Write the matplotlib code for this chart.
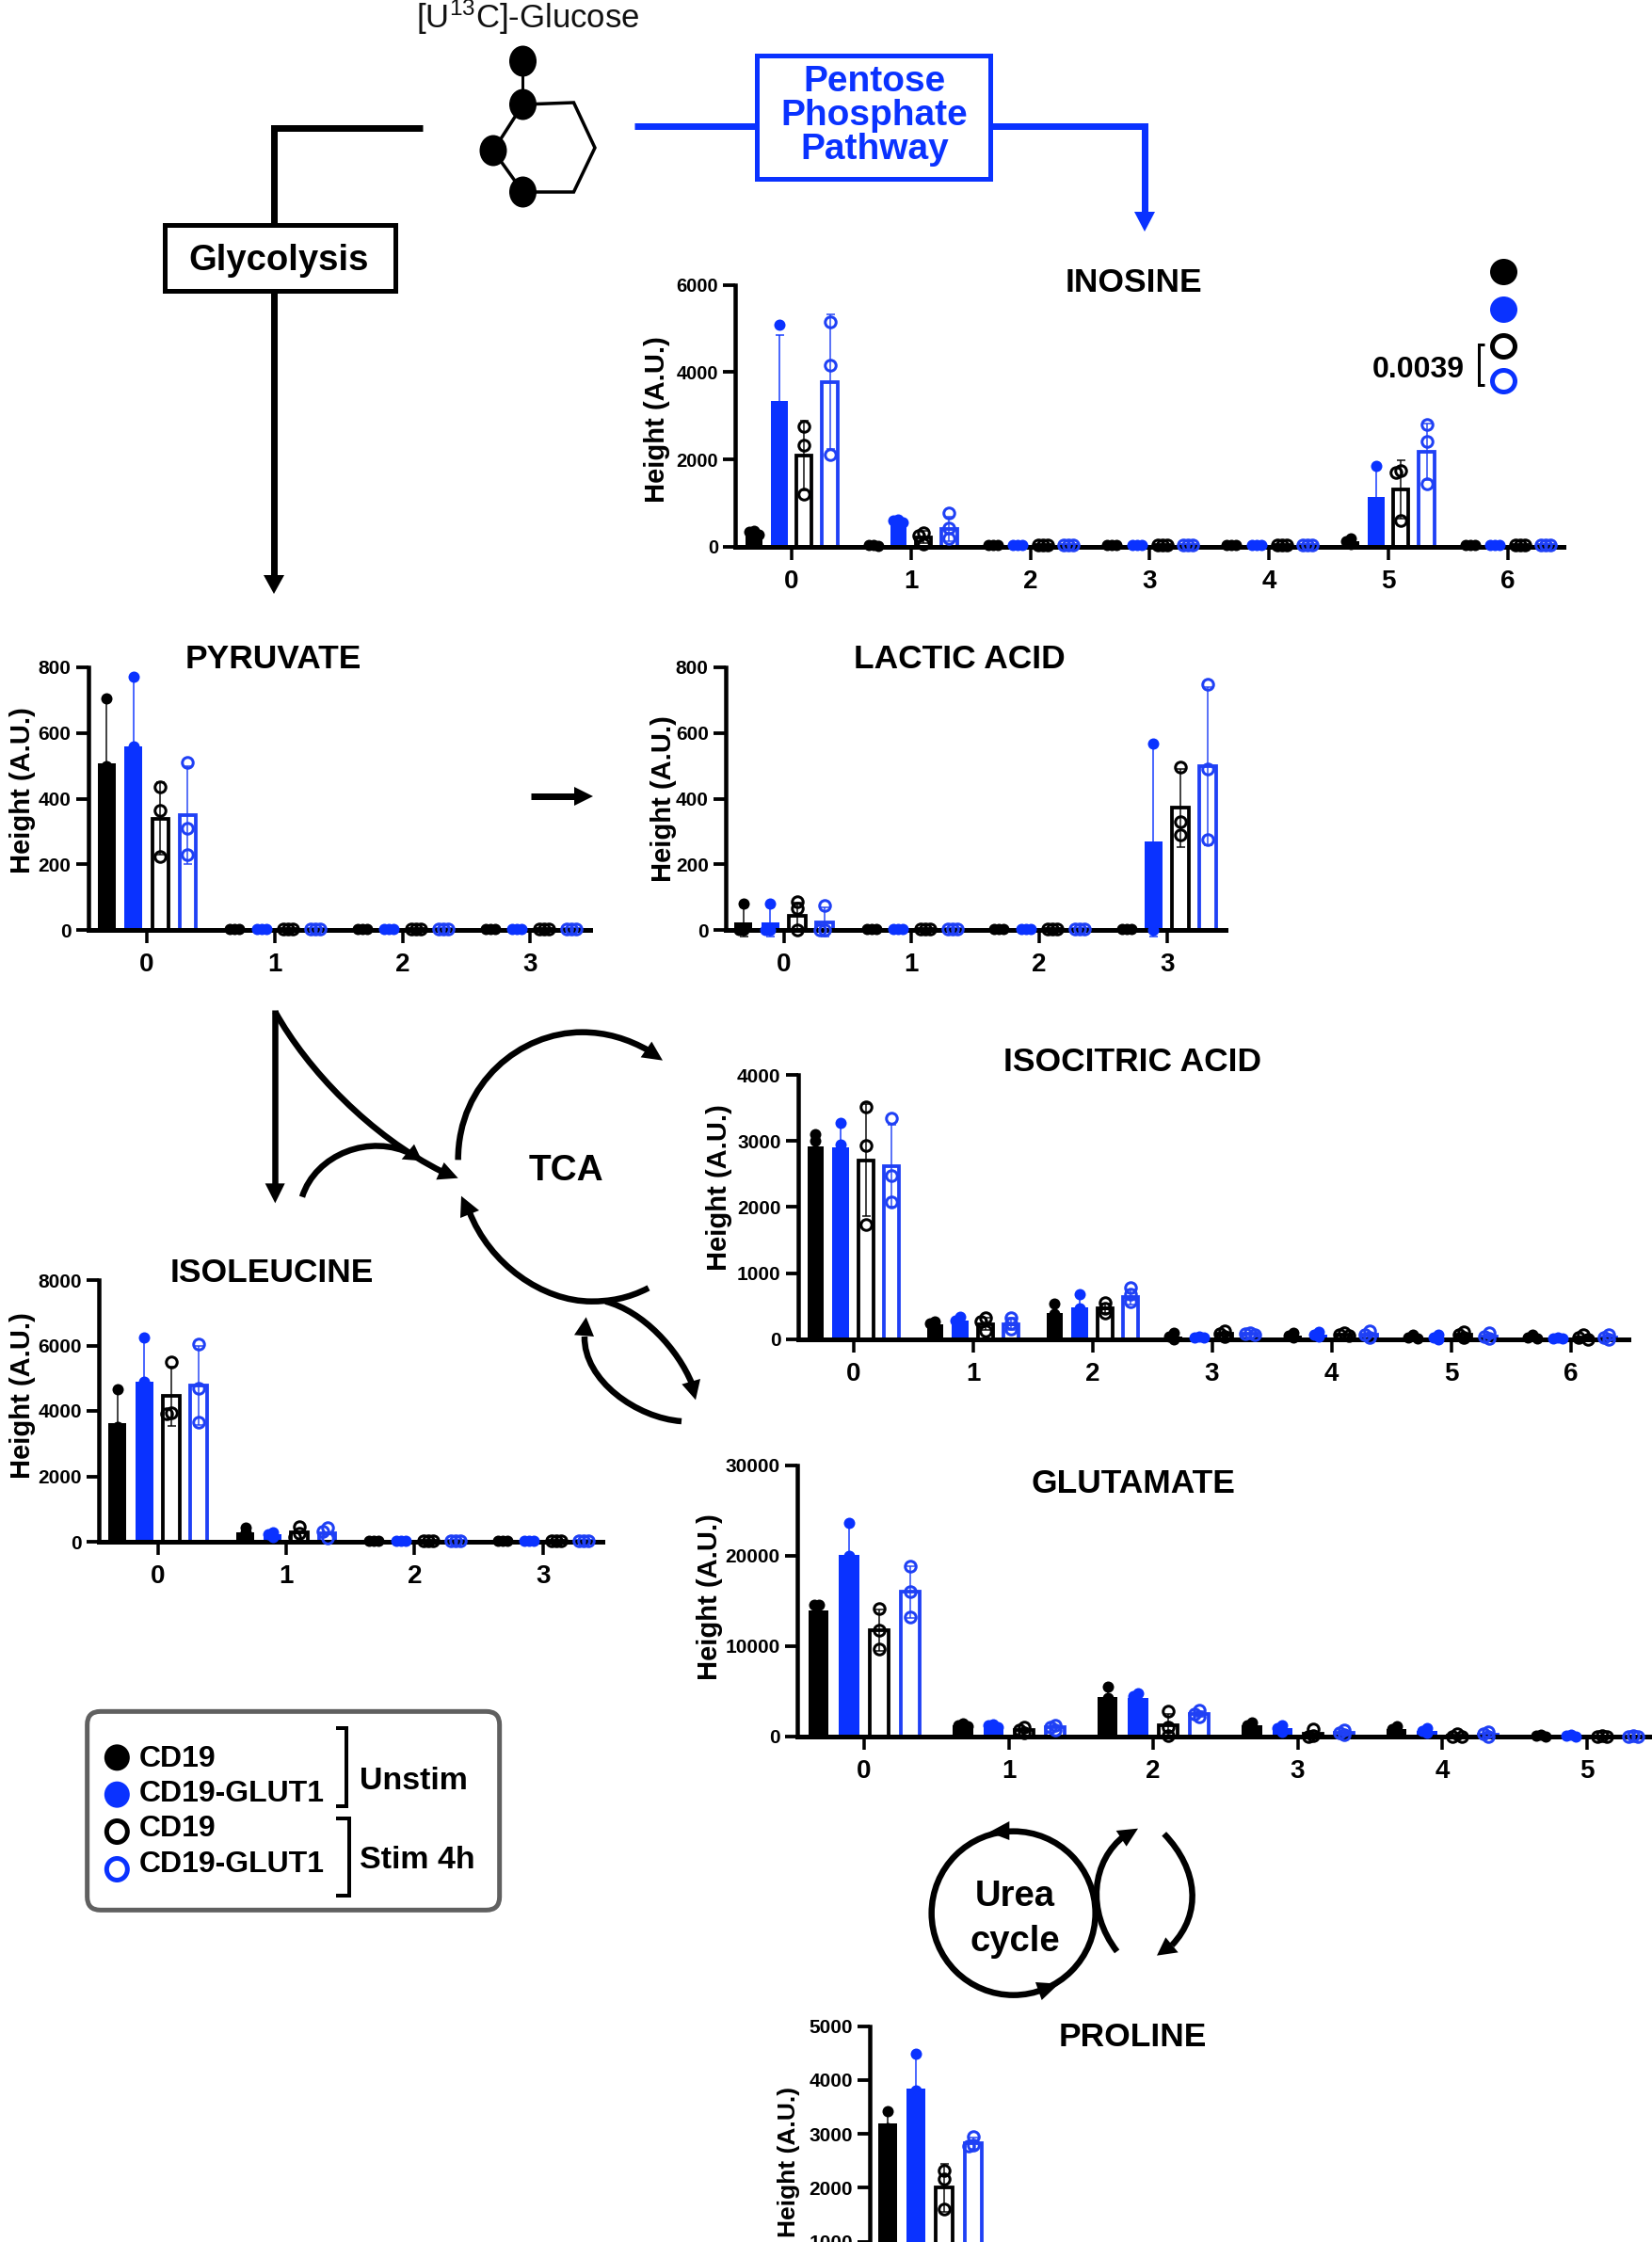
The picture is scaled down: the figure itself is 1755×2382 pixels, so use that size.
import matplotlib
matplotlib.use('Agg')
import matplotlib.pyplot as plt
from matplotlib.path import Path
from matplotlib.patches import PathPatch, Polygon, Ellipse, FancyBboxPatch, Rectangle

plt.rcParams['font.family'] = ['Liberation Sans', 'DejaVu Sans']
plt.rcParams['font.weight'] = 'bold'
plt.rcParams['mathtext.default'] = 'regular'

W, H = 1755, 2382
BLACK = '#000000'
BLUE = '#0A32FF'
OPEN_BLUE = '#1F40F5'
GROUP_COLORS = [BLACK, BLUE, BLACK, OPEN_BLUE]
GROUP_FILLED = [True, True, False, False]
OFFSETS = [-0.315, -0.105, 0.105, 0.32]

# ---------------- data: one row per isotopologue, four groups per row ----------------
inosine_labels = ['0', '1', '2', '3', '4', '5', '6']
inosine_means = [[300, 3330, 2080, 3780], [30, 600, 220, 400], [30, 30, 30, 30], [30, 30, 30, 30],
                 [30, 30, 30, 30], [130, 1130, 1310, 2180], [30, 30, 30, 30]]
inosine_sd = [[50, 1520, 800, 1550], [0, 50, 130, 280], [0, 0, 0, 0], [0, 0, 0, 0],
              [0, 0, 0, 0], [50, 700, 660, 650], [0, 0, 0, 0]]
inosine_points = [
    [[350, 330, 280], [5080, 2900, 2000], [2750, 2320, 1200], [5150, 4150, 2100]],
    [[40, 30, 20], [620, 600, 560], [320, 250, 50], [780, 420, 180]],
    [[30, 30, 30], [30, 30, 30], [30, 30, 30], [30, 30, 30]],
    [[30, 30, 30], [30, 30, 30], [30, 30, 30], [30, 30, 30]],
    [[30, 30, 30], [30, 30, 30], [30, 30, 30], [30, 30, 30]],
    [[180, 130, 60], [1850, 900, 640], [1750, 1700, 600], [2800, 2400, 1430]],
    [[30, 30, 30], [30, 30, 30], [30, 30, 30], [30, 30, 30]],
]

pyruvate_labels = ['0', '1', '2', '3']
pyruvate_means = [[508, 558, 340, 350], [3, 3, 3, 3], [3, 3, 3, 3], [3, 3, 3, 3]]
pyruvate_sd = [[190, 210, 110, 150], [0, 0, 0, 0], [0, 0, 0, 0], [0, 0, 0, 0]]
pyruvate_points = [
    [[705, 500, 320], [770, 560, 340], [437, 365, 225], [510, 310, 230]],
    [[3, 3, 3], [3, 3, 3], [3, 3, 3], [3, 3, 3]],
    [[3, 3, 3], [3, 3, 3], [3, 3, 3], [3, 3, 3]],
    [[3, 3, 3], [3, 3, 3], [3, 3, 3], [3, 3, 3]],
]

lactic_labels = ['0', '1', '2', '3']
lactic_means = [[25, 25, 45, 25], [3, 3, 3, 3], [3, 3, 3, 3], [3, 270, 372, 500]]
lactic_sd = [[45, 45, 40, 45], [0, 0, 0, 0], [0, 0, 0, 0], [0, 290, 120, 240]]
lactic_points = [
    [[82, 2, 2], [80, 2, 2], [88, 68, 0], [75, 2, 2]],
    [[3, 3, 3], [3, 3, 3], [3, 3, 3], [3, 3, 3]],
    [[3, 3, 3], [3, 3, 3], [3, 3, 3], [3, 3, 3]],
    [[3, 3, 3], [568, 240, 2], [497, 330, 290], [748, 490, 275]],
]

isocitric_labels = ['0', '1', '2', '3', '4', '5', '6']
isocitric_means = [[2920, 2900, 2710, 2620], [230, 280, 230, 230], [390, 480, 470, 640], [40, 30, 80, 80],
                   [50, 70, 70, 70], [30, 30, 60, 40], [30, 10, 30, 30]]
isocitric_sd = [[150, 350, 850, 620], [40, 60, 90, 90], [130, 190, 70, 110], [0, 0, 0, 0],
                [0, 0, 0, 0], [0, 0, 0, 0], [0, 0, 0, 0]]
isocitric_points = [
    [[3100, 3000, 2800], [3270, 2950, 2500], [3520, 2930, 1740], [3340, 2480, 2080]],
    [[270, 240, 180], [340, 280, 220], [320, 260, 130], [330, 240, 150]],
    [[540, 380, 250], [680, 470, 300], [550, 470, 400], [780, 680, 560]],
    [[90, 40, 0], [40, 30, 30], [130, 80, 40], [100, 80, 70]],
    [[90, 50, 20], [110, 70, 40], [100, 70, 50], [130, 70, 30]],
    [[60, 30, 10], [70, 30, 0], [110, 60, 30], [90, 40, 10]],
    [[70, 30, 10], [20, 10, 10], [60, 30, 0], [70, 30, 0]],
]

glutamate_labels = ['0', '1', '2', '3', '4', '5']
glutamate_means = [[14000, 20100, 11800, 16000], [1300, 1200, 700, 1000], [4400, 4300, 1200, 2500],
                   [1300, 900, 300, 400], [800, 600, 100, 200], [100, 100, 50, 50]]
glutamate_sd = [[700, 3500, 2300, 2900], [0, 0, 0, 0], [1000, 500, 1300, 300],
                [0, 0, 0, 0], [0, 0, 0, 0], [0, 0, 0, 0]]
glutamate_points = [
    [[14600, 14600, 13000], [23600, 20000, 16700], [14200, 11800, 9700], [18900, 16000, 13200]],
    [[1500, 1300, 1100], [1400, 1200, 1000], [1000, 700, 400], [1300, 1000, 700]],
    [[5500, 4300, 3500], [4800, 4500, 3700], [2800, 1000, 100], [2900, 2500, 2200]],
    [[1600, 1300, 1100], [1300, 900, 500], [800, 100, 50], [700, 400, 200]],
    [[1100, 800, 600], [900, 600, 400], [300, 50, 0], [500, 300, 0]],
    [[200, 100, 0], [200, 100, 50], [80, 50, 20], [100, 50, 0]],
]

isoleucine_labels = ['0', '1', '2', '3']
isoleucine_means = [[3620, 4900, 4450, 4780], [300, 220, 280, 270], [20, 20, 20, 20], [20, 20, 20, 20]]
isoleucine_sd = [[1000, 1300, 900, 1200], [0, 0, 0, 0], [0, 0, 0, 0], [0, 0, 0, 0]]
isoleucine_points = [
    [[4650, 3500, 2700], [6250, 4900, 3500], [5500, 3950, 3900], [6050, 4700, 3650]],
    [[430, 300, 170], [300, 220, 140], [470, 250, 130], [420, 320, 110]],
    [[20, 20, 20], [20, 20, 20], [20, 20, 20], [20, 20, 20]],
    [[20, 20, 20], [20, 20, 20], [20, 20, 20], [20, 20, 20]],
]

proline_labels = ['0']
proline_means = [[3200, 3840, 2000, 2830]]
proline_sd = [[220, 640, 450, 100]]
proline_points = [[[3430, 3100, 3000], [4480, 3800, 3200], [2330, 2160, 1600], [2950, 2800, 2780]]]

dpi = 100
fig = plt.figure(figsize=(W / dpi, H / dpi), dpi=dpi, facecolor='white')
px = 72 / dpi  # one pixel in points

# overlay in pixel coordinates for the pathway diagram
ax0 = fig.add_axes([0, 0, 1, 1], zorder=0)
ax0.set_xlim(0, W)
ax0.set_ylim(H, 0)
ax0.axis('off')


def chart(title, title_xy, labels, means, sd, points, ymax, yticks, left, right, ytop, y0, tick0, step,
          ylabel_xy, ylabel_size=21, tick_size=15, show_x=True):
    ax = fig.add_axes([left / W, 1 - y0 / H, (right - left) / W, (y0 - ytop) / H], zorder=2)
    ax.patch.set_visible(False)
    ax.set_xlim((left - tick0) / step, (right - tick0) / step)
    ax.set_ylim(0, ymax)
    for s in ('top', 'right'):
        ax.spines[s].set_visible(False)
    ax.spines['left'].set_linewidth(4.5 * px)
    ax.spines['bottom'].set_linewidth(5 * px)
    ax.spines['bottom'].set_zorder(3)
    ax.spines['left'].set_bounds(0, ymax)
    bar_w = 0.14
    per_unit = (y0 - ytop) / ymax
    for i, (row_m, row_s, row_p) in enumerate(zip(means, sd, points)):
        for g, off in enumerate(OFFSETS):
            c, filled = GROUP_COLORS[g], GROUP_FILLED[g]
            x = i + off
            ax.bar(x, row_m[g], bar_w * (1 if filled else 0.92), color=c if filled else 'white',
                   edgecolor=c, linewidth=0 if filled else 3.8 * px, zorder=2)
            if row_s[g] > 0:
                ax.errorbar(x, row_m[g], yerr=row_s[g], color=c, lw=1.3, alpha=0.8, capsize=4.5 * px,
                            capthick=1.3, zorder=2.6, clip_on=False)
            placed = []
            for v in row_p[g]:
                for d in (0, -5, 5, -10, 10):
                    if all(((d - pd) ** 2 + ((v - pv) * per_unit) ** 2) >= 4.5 ** 2 for pd, pv in placed):
                        break
                placed.append((d, v))
                xx = x + d / step
                if filled:
                    ax.plot(xx, v, 'o', ms=12 * px, mfc=c, mec=c, mew=0, zorder=4, clip_on=False)
                else:
                    ax.plot(xx, v, 'o', ms=11.5 * px, mfc='none', mec=c, mew=3 * px, zorder=4, clip_on=False)
    ax.set_yticks(yticks)
    ax.set_yticklabels([str(t) for t in yticks], fontsize=tick_size, fontweight='bold')
    ax.tick_params(axis='y', length=13 * px, width=3.8 * px, pad=5 * px)
    if show_x:
        ax.set_xticks(range(len(labels)))
        ax.set_xticklabels(labels, fontsize=20, fontweight='bold')
        ax.tick_params(axis='x', length=14 * px, width=3.5 * px, pad=10 * px)
    else:
        ax.set_xticks([])
        ax.spines['bottom'].set_visible(False)
    ax.set_ylabel('Height (A.U.)', fontsize=ylabel_size, fontweight='bold')
    ax.yaxis.set_label_coords(ylabel_xy[0] + 3, ylabel_xy[1], transform=ax0.transData)
    ax.yaxis.label.set_verticalalignment('center')
    ax.set_title(title, fontsize=25.5, fontweight='bold', pad=0, va='center',
                 x=(title_xy[0] - left) / (right - left), y=(y0 - title_xy[1] - 3) / (y0 - ytop))
    return ax


chart('INOSINE', (1204, 297), inosine_labels, inosine_means, inosine_sd, inosine_points, 6000,
      [0, 2000, 4000, 6000], 781, 1661, 302.7, 580.7, 841, 126.8, (695, 446), tick_size=14.5)
chart('PYRUVATE', (290, 698), pyruvate_labels, pyruvate_means, pyruvate_sd, pyruvate_points, 800,
      [0, 200, 400, 600, 800], 93.5, 627, 709, 988.3, 156, 135.8, (21, 840))
chart('LACTIC ACID', (1019, 698), lactic_labels, lactic_means, lactic_sd, lactic_points, 800,
      [0, 200, 400, 600, 800], 770.7, 1302, 709, 988.3, 832.6, 135.7, (702, 849))
chart('ISOCITRIC ACID', (1203, 1125), isocitric_labels, isocitric_means, isocitric_sd, isocitric_points, 4000,
      [0, 1000, 2000, 3000, 4000], 847.6, 1730, 1142, 1422.7, 906.5, 127, (761, 1262))
chart('GLUTAMATE', (1203.5, 1574), glutamate_labels, glutamate_means, glutamate_sd, glutamate_points, 30000,
      [0, 10000, 20000, 30000], 846.7, 1755, 1557, 1845, 918, 153.5, (751, 1697))
chart('ISOLEUCINE', (289, 1350), isoleucine_labels, isoleucine_means, isoleucine_sd, isoleucine_points, 8000,
      [0, 2000, 4000, 6000, 8000], 105, 640, 1360, 1638, 167.5, 136.4, (21, 1483))
chart('PROLINE', (1203, 2162), proline_labels, proline_means, proline_sd, proline_points, 5000,
      [1000, 2000, 3000, 4000, 5000], 924, 1700, 2152.7, 2439, 988, 143, (835, 2297), ylabel_size=19)


# ---------------- pathway diagram helpers ----------------
def line(pts, color=BLACK, w=7, cap='butt', join='miter'):
    xs, ys = zip(*pts)
    ax0.plot(xs, ys, color=color, lw=w * px, solid_capstyle=cap, solid_joinstyle=join, zorder=1)


def head(tip, b1, b2, color=BLACK):
    ax0.add_patch(Polygon([tip, b1, b2], closed=True, fc=color, ec='none', zorder=1))


def curve(pts, w=6.5):
    codes = [Path.MOVETO] + [Path.CURVE4] * (len(pts) - 1)
    ax0.add_patch(PathPatch(Path(pts, codes), fc='none', ec=BLACK, lw=w * px, capstyle='butt', zorder=1))


def tx(origin):
    ox, oy = origin
    return lambda *p: [(ox + a / 3, oy + b / 3) for a, b in p]


def disc(x, y, w=29, h=33, fc=BLACK, ec=BLACK, lw=0):
    ax0.add_patch(Ellipse((x, y), w, h, fc=fc, ec=ec, lw=lw * px, zorder=1))


# glucose
ax0.text(561, 30, '[U$^{13}$C]-Glucose', fontsize=25, fontweight='normal', ha='center', va='baseline', color='#111111')
line([(555.5, 65), (555.5, 111)], w=3)
line([(555.5, 111), (609.5, 109), (632, 157), (609.5, 204), (555.5, 204), (524, 160), (555.5, 111)], w=3.5)
for cx, cy in [(555.5, 65), (555.5, 111), (524, 160), (555.5, 204)]:
    disc(cx, cy)

# glycolysis branch
line([(449.5, 136), (291, 136), (291, 612)], w=7)
ax0.add_patch(Rectangle((175, 239), 245, 70, fc='white', ec=BLACK, lw=5 * px, zorder=1.1))
ax0.text(296, 277, 'Glycolysis', fontsize=27.5, ha='center', va='center', zorder=1.2)
head((291, 631), (280, 611), (302, 611))

# pentose phosphate branch
line([(674, 133.7), (1216, 133.7), (1216, 226)], color=BLUE, w=7)
ax0.add_patch(Rectangle((804, 59), 248, 131, fc='white', ec=BLUE, lw=5 * px, zorder=1.1))
for yy, s in [(87, 'Pentose'), (123, 'Phosphate'), (159, 'Pathway')]:
    ax0.text(929, yy, s, fontsize=28, color=BLUE, ha='center', va='center', zorder=1.2)
head((1216, 246), (1205, 225), (1227, 225), color=BLUE)

# pyruvate to lactic acid
line([(564, 846), (612, 846)], w=7)
head((630, 846), (610, 836), (610, 856))

# inosine comparison key
disc(1597.5, 289, 29, 28)
disc(1597.5, 329, 29, 28, fc=BLUE, ec=BLUE)
disc(1597.5, 368, 24, 23, fc='white', ec=BLACK, lw=5)
disc(1597.5, 405, 24, 23, fc='white', ec=BLUE, lw=5)
ax0.text(1507, 393, '0.0039', fontsize=23, ha='center', va='center')
line([(1577, 366), (1571, 366), (1571, 409), (1577, 409)], w=3)

# TCA cycle
z = tx((260, 1050))
line(z((97, 70), (97, 625)), w=6.5)
head(*z((97, 685), (65, 622), (128, 622)))
curve(z((97, 75), (200, 260), (400, 470), (630, 585)))
head(*z((680, 605), (610, 610), (635, 555)))
curve(z((183, 665), (225, 530), (400, 460), (535, 530)))
head(*z((565, 550), (500, 545), (540, 497)))
curve(z((680, 547), (680, 300), (880, 140), (1075, 140), (1150, 140), (1220, 160), (1290, 200)))
head(*z((1332, 230), (1262, 220), (1297, 170)))
curve(z((1287, 955), (1220, 990), (1160, 998), (1105, 998), (950, 998), (780, 880), (715, 710)))
head(*z((690, 662), (687, 732), (747, 708)))
curve(z((1150, 998), (1270, 1030), (1380, 1150), (1425, 1260)))
head(*z((1437, 1312), (1393, 1262), (1452, 1245)))
curve(z((1392, 1380), (1250, 1370), (1080, 1250), (1083, 1110)))
head(*z((1088, 1048), (1050, 1105), (1113, 1110)))
ax0.text(260 + 1025 / 3, 1053 + 572 / 3, 'TCA', fontsize=28, ha='center', va='center')

# urea cycle
u = tx((960, 1910))
cx, cy = u((350, 368))[0]
ax0.add_patch(Ellipse((cx, cy), 174, 174, fc='none', ec=BLACK, lw=6.5 * px, zorder=1))
head(*u((272, 110), (337, 75), (337, 135)))
head(*u((495, 593), (420, 588), (440, 645)))
curve(u((680, 490), (580, 360), (600, 200), (705, 120)))
head(*u((747, 98), (677, 105), (710, 155)))
curve(u((830, 115), (940, 230), (950, 370), (855, 470)))
head(*u((807, 503), (835, 445), (875, 493)))
ax0.text(*u((355, 314))[0], 'Urea', fontsize=27.5, ha='center', va='center')
ax0.text(*u((355, 459))[0], 'cycle', fontsize=27.5, ha='center', va='center')

# group legend
g = tx((80, 1800))
(x1, y1), (x2, y2) = g((38, 55), (1352, 688))
ax0.add_patch(FancyBboxPatch((x1 + 14, y1 + 14), x2 - x1 - 28, y2 - y1 - 28, boxstyle='round,pad=14,rounding_size=14',
                             fc='white', ec='#606060', lw=5 * px, zorder=0.5))
for (a, b), fc, ec, d, lw in [((133, 202), BLACK, BLACK, 27, 0), ((133, 320), BLUE, BLUE, 27, 0),
                              ((133, 438), 'white', BLACK, 22, 5), ((133, 558), 'white', BLUE, 22, 5)]:
    p = g((a, b))[0]
    disc(p[0], p[1], d, d + 1, fc=fc, ec=ec, lw=lw)
for b, s in [(207, 'CD19'), (319, 'CD19-GLUT1'), (429, 'CD19'), (544, 'CD19-GLUT1')]:
    p = g((202, b))[0]
    ax0.text(p[0], p[1], s, fontsize=23, ha='left', va='center')
line(g((830, 107), (865, 107), (865, 358), (830, 358)), w=4)
line(g((830, 395), (872, 395), (872, 642), (830, 642)), w=4)
p = g((906, 277))[0]
ax0.text(p[0], p[1], 'Unstim', fontsize=24.5, ha='left', va='center')
p = g((906, 529))[0]
ax0.text(p[0], p[1], 'Stim 4h', fontsize=24.5, ha='left', va='center')

fig.savefig('out.png', dpi=dpi, facecolor='white')
